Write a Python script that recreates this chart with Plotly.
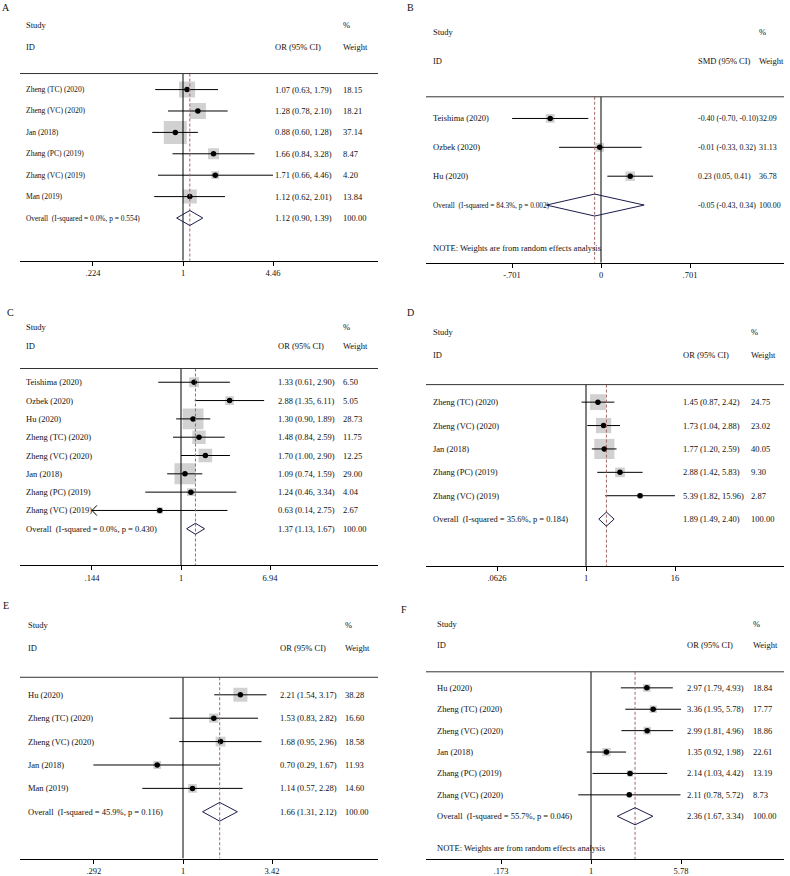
import numpy as np
import plotly.graph_objects as go

FONT = "Liberation Serif"
W, H = 790, 876

# ---- data ----
a_study = ["Zheng (TC) (2020)", "Zheng (VC) (2020)", "Jan (2018)",
           "Zhang (PC) (2019)", "Zhang (VC) (2019)", "Man (2019)"]
a_est = [1.07, 1.28, 0.88, 1.66, 1.71, 1.12]
a_lo = [0.63, 0.78, 0.60, 0.84, 0.66, 0.62]
a_hi = [1.79, 2.10, 1.28, 3.28, 4.46, 2.01]
a_wt = [18.15, 18.21, 37.14, 8.47, 4.20, 13.84]
a_overall = [1.12, 0.90, 1.39]
a_het = "Overall\u00a0\u00a0(I-squared = 0.0%, p = 0.554)"
a_ticks = [0.224, 1, 4.46]
a_ticktext = [".224", "1", "4.46"]

b_study = ["Teishima (2020)", "Ozbek (2020)", "Hu (2020)"]
b_est = [-0.40, -0.01, 0.23]
b_lo = [-0.70, -0.33, 0.05]
b_hi = [-0.10, 0.32, 0.41]
b_wt = [32.09, 31.13, 36.78]
b_overall = [-0.05, -0.43, 0.34]
b_het = "Overall\u00a0\u00a0(I-squared = 84.3%, p = 0.002)"
b_ticks = [-0.701, 0, 0.701]
b_ticktext = ["-.701", "0", ".701"]

c_study = ["Teishima (2020)", "Ozbek (2020)", "Hu (2020)", "Zheng (TC) (2020)",
           "Zheng (VC) (2020)", "Jan (2018)", "Zhang (PC) (2019)", "Zhang (VC) (2019)"]
c_est = [1.33, 2.88, 1.30, 1.48, 1.70, 1.09, 1.24, 0.63]
c_lo = [0.61, 1.35, 0.90, 0.84, 1.00, 0.74, 0.46, 0.14]
c_hi = [2.90, 6.11, 1.89, 2.59, 2.90, 1.59, 3.34, 2.75]
c_wt = [6.50, 5.05, 28.73, 11.75, 12.25, 29.00, 4.04, 2.67]
c_overall = [1.37, 1.13, 1.67]
c_het = "Overall\u00a0\u00a0(I-squared = 0.0%, p = 0.430)"
c_ticks = [0.144, 1, 6.94]
c_ticktext = [".144", "1", "6.94"]

d_study = ["Zheng (TC) (2020)", "Zheng (VC) (2020)", "Jan (2018)",
           "Zhang (PC) (2019)", "Zhang (VC) (2019)"]
d_est = [1.45, 1.73, 1.77, 2.88, 5.39]
d_lo = [0.87, 1.04, 1.20, 1.42, 1.82]
d_hi = [2.42, 2.88, 2.59, 5.83, 15.96]
d_wt = [24.75, 23.02, 40.05, 9.30, 2.87]
d_overall = [1.89, 1.49, 2.40]
d_het = "Overall\u00a0\u00a0(I-squared = 35.6%, p = 0.184)"
d_ticks = [0.0626, 1, 16]
d_ticktext = [".0626", "1", "16"]

e_study = ["Hu (2020)", "Zheng (TC) (2020)", "Zheng (VC) (2020)", "Jan (2018)", "Man (2019)"]
e_est = [2.21, 1.53, 1.68, 0.70, 1.14]
e_lo = [1.54, 0.83, 0.95, 0.29, 0.57]
e_hi = [3.17, 2.82, 2.96, 1.67, 2.28]
e_wt = [38.28, 16.60, 18.58, 11.93, 14.60]
e_overall = [1.66, 1.31, 2.12]
e_het = "Overall\u00a0\u00a0(I-squared = 45.9%, p = 0.116)"
e_ticks = [0.292, 1, 3.42]
e_ticktext = [".292", "1", "3.42"]

f_study = ["Hu (2020)", "Zheng (TC) (2020)", "Zheng (VC) (2020)", "Jan (2018)",
           "Zhang (PC) (2019)", "Zhang (VC) (2020)"]
f_est = [2.97, 3.36, 2.99, 1.35, 2.14, 2.11]
f_lo = [1.79, 1.95, 1.81, 0.92, 1.03, 0.78]
f_hi = [4.93, 5.78, 4.96, 1.98, 4.42, 5.72]
f_wt = [18.84, 17.77, 18.86, 22.61, 13.19, 8.73]
f_overall = [2.36, 1.67, 3.34]
f_het = "Overall\u00a0\u00a0(I-squared = 55.7%, p = 0.046)"
f_ticks = [0.173, 1, 5.78]
f_ticktext = [".173", "1", "5.78"]

note = "NOTE: Weights are from random effects analysis"

panels = [
    dict(letter="A", study=a_study, est=a_est, lo=a_lo, hi=a_hi, wt=a_wt, ov=a_overall,
         het=a_het, ticks=a_ticks, ticktext=a_ticktext, measure="OR", log=True, note=False,
         xl=20, xr=378, null_px=183, hi_px=273, row1=90, s=21.5, lab=4, est_off=253, wt_off=321,
         box=3.77, dia=0.35, lsize=7.6, osize=7.4, esize=8.5, let_xy=(6, 8)),
    dict(letter="B", study=b_study, est=b_est, lo=b_lo, hi=b_hi, wt=b_wt, ov=b_overall,
         het=b_het, ticks=b_ticks, ticktext=b_ticktext, measure="SMD", log=False, note=True,
         xl=426, xr=784, null_px=601, hi_px=690, row1=119, s=29, lab=5, est_off=270, wt_off=331,
         box=1.55, dia=0.38, lsize=8.5, osize=7.3, esize=7.9, let_xy=(410, 8)),
    dict(letter="C", study=c_study, est=c_est, lo=c_lo, hi=c_hi, wt=c_wt, ov=c_overall,
         het=c_het, ticks=c_ticks, ticktext=c_ticktext, measure="OR", log=True, note=False,
         xl=20, xr=378, null_px=181, hi_px=270, row1=384, s=18.4, lab=4, est_off=256, wt_off=321,
         box=3.9, dia=0.3, lsize=8.5, osize=8.5, esize=8.5, let_xy=(10, 314)),
    dict(letter="D", study=d_study, est=d_est, lo=d_lo, hi=d_hi, wt=d_wt, ov=d_overall,
         het=d_het, ticks=d_ticks, ticktext=d_ticktext, measure="OR", log=True, note=False,
         xl=426, xr=784, null_px=586, hi_px=675, row1=404, s=23.5, lab=5, est_off=255, wt_off=323,
         box=3.18, dia=0.3, lsize=8.5, osize=8.5, esize=8.5, let_xy=(410, 314)),
    dict(letter="E", study=e_study, est=e_est, lo=e_lo, hi=e_hi, wt=e_wt, ov=e_overall,
         het=e_het, ticks=e_ticks, ticktext=e_ticktext, measure="OR", log=True, note=False,
         xl=20, xr=378, null_px=183, hi_px=272, row1=698, s=23.5, lab=6, est_off=258, wt_off=323,
         box=2.27, dia=0.4, lsize=8.5, osize=8.5, esize=8.5, let_xy=(6, 608)),
    dict(letter="F", study=f_study, est=f_est, lo=f_lo, hi=f_hi, wt=f_wt, ov=f_overall,
         het=f_het, ticks=f_ticks, ticktext=f_ticktext, measure="OR", log=True, note=True,
         xl=426, xr=784, null_px=591, hi_px=681, row1=691, s=21.5, lab=9, est_off=259, wt_off=325,
         box=1.75, dia=0.4, lsize=8.5, osize=8.5, esize=8.5, let_xy=(404, 612)),
]

fig = go.Figure()
annotations = []
shapes = []
ax_layout = {}

TOP = -2.6  # row at top of each panel's y-domain
LINE_ROW = 0.25  # row of the horizontal rule under the header


def txt(xref, yref, x, y, text, size=8.5, anchor="left"):
    return dict(xref=xref, yref=yref, x=x, y=y, text=text, showarrow=False,
                xanchor=anchor, yanchor="middle",
                font=dict(family=FONT, size=size, color="#111"))


for i, p in enumerate(panels, start=1):
    sfx = "" if i == 1 else str(i)
    xa, ya = "x" + sfx, "y" + sfx
    n = len(p["study"])
    rows = np.arange(1, n + 1)
    bottom = n + 3
    ov_row = n + 1

    # pixel -> axis mapping
    if p["log"]:
        k = np.log10(p["ticks"][2]) / (p["hi_px"] - p["null_px"])
        null = 1
    else:
        k = p["ticks"][2] / (p["hi_px"] - p["null_px"])
        null = 0
    xrange = [(p["xl"] - p["null_px"]) * k, (p["xr"] - p["null_px"]) * k]
    y_bot_px = p["row1"] + (bottom - 1) * p["s"]
    y_top_px = p["row1"] + (TOP - 1) * p["s"]
    pw = p["xr"] - p["xl"]

    ax_layout["xaxis" + sfx] = dict(
        domain=[p["xl"] / W, p["xr"] / W], range=xrange,
        type="log" if p["log"] else "linear", anchor=ya,
        tickvals=p["ticks"], ticktext=p["ticktext"], ticks="outside", ticklen=4,
        tickcolor="black", showline=True, linecolor="black", linewidth=1,
        showgrid=False, zeroline=False,
        tickfont=dict(family=FONT, size=8.5, color="#111"),
    )
    ax_layout["yaxis" + sfx] = dict(
        domain=[1 - y_bot_px / H, 1 - y_top_px / H], range=[bottom, TOP],
        visible=False, anchor=xa, showgrid=False, zeroline=False,
    )

    # weight boxes
    fig.add_trace(go.Scatter(
        x=p["est"], y=rows, mode="markers", xaxis=xa, yaxis=ya,
        marker=dict(symbol="square", color="#bdbdbd",
                    size=[p["box"] * np.sqrt(w) for w in p["wt"]], line_width=0),
    ))

    # CI lines (clip at the lowest tick and draw an arrow)
    cx, cy = [], []
    arrows_x, arrows_y = [], []
    lo_lim = p["ticks"][0]
    for r, lo, hi in zip(rows, p["lo"], p["hi"]):
        if p["log"] and lo < 0.98 * lo_lim:
            lo = lo_lim
            dx = 10 ** (5 * k)
            arrows_x += [lo * dx, lo, lo * dx, None]
            arrows_y += [r - 0.28, r, r + 0.28, None]
        cx += [lo, hi, None]
        cy += [r, r, None]
    fig.add_trace(go.Scatter(x=cx, y=cy, mode="lines", xaxis=xa, yaxis=ya,
                             line=dict(color="black", width=1)))
    if arrows_x:
        fig.add_trace(go.Scatter(x=arrows_x, y=arrows_y, mode="lines", xaxis=xa, yaxis=ya,
                                 line=dict(color="black", width=1)))

    # point estimates
    fig.add_trace(go.Scatter(x=p["est"], y=rows, mode="markers", xaxis=xa, yaxis=ya,
                             marker=dict(symbol="circle", color="black", size=5.5)))

    # null line and overall dashed line
    fig.add_trace(go.Scatter(x=[null, null], y=[LINE_ROW, bottom], mode="lines",
                             xaxis=xa, yaxis=ya, line=dict(color="black", width=1)))
    oe, ol, oh = p["ov"]
    fig.add_trace(go.Scatter(x=[oe, oe], y=[LINE_ROW, bottom], mode="lines",
                             xaxis=xa, yaxis=ya,
                             line=dict(color="#a06868", width=1, dash="3px,2px")))

    # overall diamond
    d = p["dia"]
    fig.add_trace(go.Scatter(x=[ol, oe, oh, oe, ol],
                             y=[ov_row, ov_row - d, ov_row, ov_row + d, ov_row],
                             mode="lines", xaxis=xa, yaxis=ya,
                             line=dict(color="#1c1c4e", width=1)))

    # header rule
    shapes.append(dict(type="line", xref=xa + " domain", yref=ya, x0=0, x1=1,
                       y0=LINE_ROW, y1=LINE_ROW, line=dict(color="#333", width=1)))

    # text columns
    xd = xa + " domain"
    lx = p["lab"] / pw
    ex = p["est_off"] / pw
    wx = p["wt_off"] / pw
    annotations.append(txt(xd, ya, lx, -2, "Study"))
    annotations.append(txt(xd, ya, lx, -1, "ID"))
    annotations.append(txt(xd, ya, wx, -2, "%"))
    annotations.append(txt(xd, ya, ex, -1, p["measure"] + " (95% CI)"))
    annotations.append(txt(xd, ya, wx, -1, "Weight"))
    for r, s_, e, lo, hi, w in zip(rows, p["study"], p["est"], p["lo"], p["hi"], p["wt"]):
        annotations.append(txt(xd, ya, lx, r, s_, size=p["lsize"]))
        annotations.append(txt(xd, ya, ex, r, f"{e:.2f} ({lo:.2f}, {hi:.2f})", size=p["esize"]))
        annotations.append(txt(xd, ya, wx, r, f"{w:.2f}", size=p["esize"]))
    annotations.append(txt(xd, ya, lx, ov_row, p["het"], size=p["osize"]))
    annotations.append(txt(xd, ya, ex, ov_row, f"{oe:.2f} ({ol:.2f}, {oh:.2f})", size=p["esize"]))
    annotations.append(txt(xd, ya, wx, ov_row, "100.00", size=p["esize"]))
    if p["note"]:
        annotations.append(txt(xd, ya, lx, n + 2.5, note))

    # panel letter
    lxp, lyp = p["let_xy"]
    annotations.append(dict(xref="paper", yref="paper", x=lxp / W, y=1 - lyp / H,
                            text=p["letter"], showarrow=False, xanchor="center",
                            yanchor="middle",
                            font=dict(family=FONT, size=10, color="#111")))

fig.update_layout(
    width=W, height=H, margin=dict(l=0, r=0, t=0, b=0),
    paper_bgcolor="white", plot_bgcolor="white", showlegend=False,
    annotations=annotations, shapes=shapes, **ax_layout,
)
# drop the default page margin so the figure fills the window exactly
fig.write_html("out.html", config={"displayModeBar": False},
               post_script="document.body.style.margin='0';document.body.style.overflow='hidden';")
